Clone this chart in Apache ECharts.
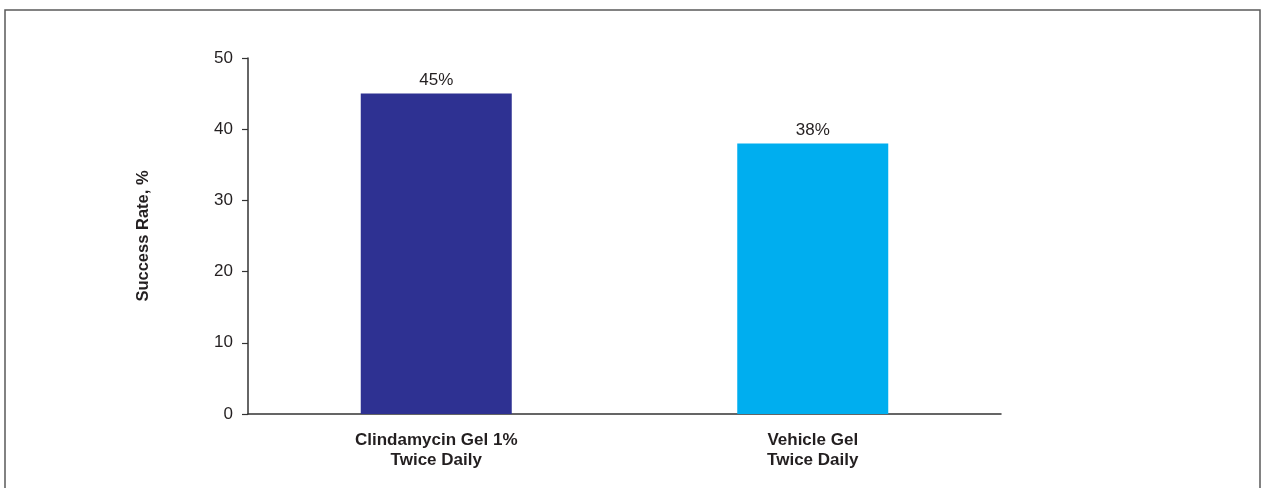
<!DOCTYPE html>
<html>
<head>
<meta charset="utf-8">
<script src="https://cdn.jsdelivr.net/npm/echarts@6/dist/echarts.min.js"></script>
<style>
html,body{margin:0;padding:0;background:#fff;}
#c{width:1261px;height:488px;}
</style>
</head>
<body>
<div id="c"></div>
<script>
const categories = ['Clindamycin Gel 1%\nTwice Daily', 'Vehicle Gel\nTwice Daily'];
const values = [45, 38];
const barColors = ['#2e3192', '#00aeef'];
const yTicks = [0, 10, 20, 30, 40, 50];
const yAxisName = 'Success Rate, %';

const chart = echarts.init(document.getElementById('c'), null, {renderer: 'canvas'});
const font = '"Liberation Sans", Arial, Helvetica, sans-serif';
chart.setOption({
  animation: false,
  graphic: [{
    type: 'rect',
    shape: {x: 5, y: 10, width: 1255, height: 500},
    style: {fill: 'none', stroke: '#5a5a5a', lineWidth: 1.5},
    silent: true
  }],
  grid: {left: 248, top: 58, right: 260, bottom: 74, containLabel: false},
  xAxis: {
    type: 'category',
    data: categories,
    axisLine: {lineStyle: {color: '#333', width: 1.5}},
    axisTick: {show: false},
    axisLabel: {
      color: '#231f20', fontSize: 17, fontWeight: 'bold', fontFamily: font,
      lineHeight: 20, margin: 16, interval: 0
    }
  },
  yAxis: {
    type: 'value',
    min: yTicks[0], max: yTicks[yTicks.length - 1], interval: 10,
    name: yAxisName,
    nameLocation: 'middle',
    nameGap: 96,
    nameRotate: 90,
    nameTextStyle: {color: '#231f20', fontSize: 16.5, fontWeight: 'bold', fontFamily: font},
    axisLine: {show: true, lineStyle: {color: '#333', width: 1.5}},
    axisTick: {show: true, length: 6, lineStyle: {color: '#333', width: 1.2}},
    splitLine: {show: false},
    axisLabel: {color: '#231f20', fontSize: 17, fontFamily: font, margin: 15}
  },
  series: [{
    type: 'bar',
    barWidth: 151,
    data: values.map((v, i) => ({value: v, itemStyle: {color: barColors[i]}})),
    label: {
      show: true, position: 'top', distance: 5,
      formatter: p => p.value + '%',
      color: '#231f20', fontSize: 17, fontFamily: font
    }
  }]
});
</script>
</body>
</html>
